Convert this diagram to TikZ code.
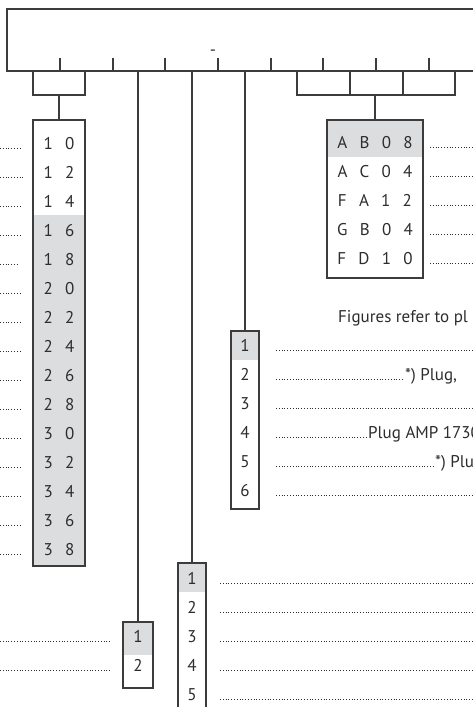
\documentclass[tikz,border=0pt]{standalone}
\usepackage{fontspec}
\setmainfont{PT Sans}
\newfontfamily\pinfont{PT Sans}[WordSpace=2.7]
\usetikzlibrary{calc}

\definecolor{wirecol}{RGB}{60,60,60}
\definecolor{ink}{RGB}{45,45,45}
\definecolor{pinshade}{RGB}{220,221,223}

\tikzset{
  box/.style={draw=wirecol, line width=1.2pt, inner sep=0pt, outer sep=0pt},
  conn/.style={draw=wirecol, line width=1.2pt},
  pinlabel/.style={anchor=base, text=ink, inner sep=0pt, font=\pinfont\fontsize{17}{20}\selectfont},
  note/.style={anchor=base west, text=ink, inner sep=0pt, font=\fontsize{17}{20}\selectfont},
  leader/.style={draw=ink, line width=1pt, dash pattern=on 1pt off 1.8pt},
}

\begin{document}
\begin{tikzpicture}[x=1pt, y=-1pt]
  \clip (0,0) rectangle (473,707);

  % control unit
  \node[box, anchor=north west, minimum width=520pt, minimum height=62pt] (ecu) at (7,9) {};
  \node[pinlabel] (dash) at (213,55) {-};
  \foreach \x in {60,113,165,218,271,323,376,429}
    \draw[conn] (\x,58) -- (\x,71);

  % left connector, pins 10 to 38
  \fill[pinshade] (33,214.5) rectangle (85,566);
  \node[box, anchor=north, minimum width=52pt, minimum height=446pt] (pins) at (59,120) {};
  \foreach \t/\e [count=\i from 0] in {1 0/22,1 2/23,1 4/20,1 6/22,1 8/18,2 0/20,2 2/22,2 4/22,
      2 6/22,2 8/20,3 0/22,3 2/22,3 4/22,3 6/22,3 8/22} {
    \node[pinlabel] (pin\i) at (59,149+29*\i) {\t};
    \draw[leader] (0,148.5+29*\i) -- (\e,148.5+29*\i);
  }
  \coordinate (lfork) at (59,95);
  \draw[conn] (33,71) -- (33,95) -- (85,95) -- (85,71);
  \draw[conn] (lfork) -- (pins.north);

  % right connector, codes
  \fill[pinshade] (327,120) rectangle (423,156.5);
  \node[box, anchor=north, minimum width=96pt, minimum height=158pt] (codes) at (375,120) {};
  \foreach \t [count=\i from 0] in {A B 0 8,A C 0 4,F A 1 2,G B 0 4,F D 1 0} {
    \node[pinlabel] (code\i) at (375,148+29*\i) {\t};
    \draw[leader] (430,147.5+29*\i) -- (480,147.5+29*\i);
  }
  \coordinate (rfork) at (375,95);
  \draw[conn] (297,71) -- (297,95) -- (455,95) -- (455,71);
  \draw[conn] (350,71) -- (350,95) (403,71) -- (403,95);
  \draw[conn] (rfork) -- (codes.north);

  % plug, 6 pins
  \node[note] (figs) at (338,322) {Figures refer to pl};
  \fill[pinshade] (231,331) rectangle (259,359.5);
  \node[box, anchor=north, minimum width=28pt, minimum height=178pt] (plug) at (245,331) {};
  \foreach \i/\e in {1/480,2/404,3/480,4/367,5/434,6/480} {
    \node[pinlabel] (plug\i) at (245,351+29*\i-29) {\i};
    \draw[leader] (276,350.5+29*\i-29) -- (\e,350.5+29*\i-29);
  }
  \node[note] (plugb) at (405,380) {*) Plug,};
  \node[note] (plugd) at (368,438) {Plug AMP 1730};
  \node[note] (pluge) at (435,467) {*) Plu};
  \draw[conn] (ecu.south -| plug.north) -- (plug.north);

  % lower connector, 5 pins
  \fill[pinshade] (178,563) rectangle (206,592);
  \node[box, anchor=north, minimum width=28pt, minimum height=160pt] (wires) at (192,563) {};
  \foreach \i in {1,...,5} {
    \node[pinlabel] (wire\i) at (192,584+29*\i-29) {\i};
    \draw[leader] (220,583.5+29*\i-29) -- (480,583.5+29*\i-29);
  }
  \draw[conn] (ecu.south -| wires.north) -- (wires.north);

  % small connector, 2 pins
  \fill[pinshade] (123,622) rectangle (153,655);
  \node[box, anchor=north, minimum width=30pt, minimum height=66pt] (diag) at (138,622) {};
  \foreach \i in {1,2} {
    \node[pinlabel] (diag\i) at (138,613+29*\i) {\i};
    \draw[leader] (0,612.5+29*\i) -- (110,612.5+29*\i);
  }
  \draw[conn] (ecu.south -| diag.north) -- (diag.north);
\end{tikzpicture}
\end{document}
